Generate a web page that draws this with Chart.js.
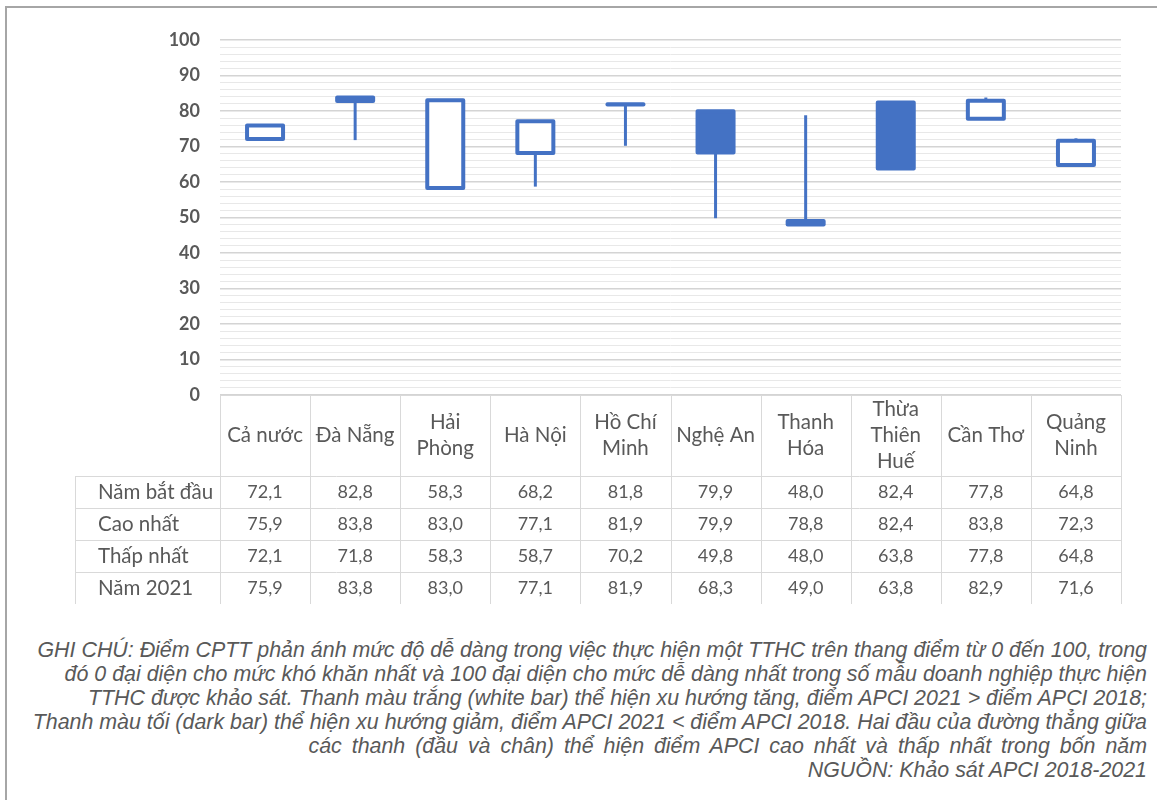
<!DOCTYPE html>
<html lang="vi">
<head>
    <meta charset="UTF-8">
    <title>APCI candlestick</title>
    <style>
        body { margin: 0; background: #fff; }
        #wrap { position: relative; width: 1157px; height: 800px; overflow: hidden; }
        #frame { position: absolute; left: 5px; top: 6px; right: -5px; bottom: -5px;
                 border-left: 2px solid #a6a6a6; border-top: 2px solid #a6a6a6; }
        #chart { position: absolute; left: 0; top: 0; }
        #note { position: absolute; right: 10px; top: 638px; width: 1150px; text-align: right;
                font: italic 21.4px "Liberation Sans", Arial, sans-serif; line-height: 24px; color: #595959;
                white-space: nowrap; }
        #note .wide { word-spacing: 4px; }
    </style>
</head>
<body>
<div id="wrap">
    <div id="frame"></div>
    <canvas id="chart" width="1157" height="620"></canvas>
    <div id="note">
        GHI CHÚ: Điểm CPTT phản ánh mức độ dễ dàng trong việc thực hiện một TTHC trên thang điểm từ 0 đến 100, trong<br>
        đó 0 đại diện cho mức khó khăn nhất và 100 đại diện cho mức dễ dàng nhất trong số mẫu doanh nghiệp thực hiện<br>
        TTHC được khảo sát. Thanh màu trắng (white bar) thể hiện xu hướng tăng, điểm APCI 2021 &gt; điểm APCI 2018;<br>
        Thanh màu tối (dark bar) thể hiện xu hướng giảm, điểm APCI 2021 &lt; điểm APCI 2018. Hai đầu của đường thẳng giữa<br>
        <span class="wide">các thanh (đầu và chân) thể hiện điểm APCI cao nhất và thấp nhất trong bốn năm</span><br>
        NGUỒN: Khảo sát APCI 2018-2021
    </div>
</div>
<script src="https://cdn.jsdelivr.net/npm/chart.js@4.4.0/dist/chart.umd.min.js"></script>
<script>
    const categories = ['Cả nước', 'Đà Nẵng', ['Hải', 'Phòng'], 'Hà Nội', ['Hồ Chí', 'Minh'],
        'Nghệ An', ['Thanh', 'Hóa'], ['Thừa', 'Thiên', 'Huế'], 'Cần Thơ', ['Quảng', 'Ninh']]
    const startVals = [72.1, 82.8, 58.3, 68.2, 81.8, 79.9, 48.0, 82.4, 77.8, 64.8]
    const highVals = [75.9, 83.8, 83.0, 77.1, 81.9, 79.9, 78.8, 82.4, 83.8, 72.3]
    const lowVals = [72.1, 71.8, 58.3, 58.7, 70.2, 49.8, 48.0, 63.8, 77.8, 64.8]
    const endVals = [75.9, 83.8, 83.0, 77.1, 81.9, 68.3, 49.0, 63.8, 82.9, 71.6]
    const rowLabels = ['Năm bắt đầu', 'Cao nhất', 'Thấp nhất', 'Năm 2021']
    const rowValues = [startVals, highVals, lowVals, endVals]

    const blue = '#4472C4'
    const textColor = '#595959'
    const lineColor = '#d9d9d9'

    // box outline drawn centered on the bar edges, like Excel strokes
    const boxStroke = {
        id: 'boxStroke',
        afterDatasetsDraw(chart) {
            const ctx = chart.ctx
            const meta = chart.getDatasetMeta(0)
            ctx.save()
            ctx.strokeStyle = blue
            ctx.lineWidth = 4
            ctx.lineJoin = 'round'
            meta.data.forEach(bar => {
                const { x, y, base, width } = bar.getProps(['x', 'y', 'base', 'width'])
                const top = Math.min(y, base)
                const h = Math.abs(base - y)
                ctx.strokeRect(x - width / 2, top, width, h)
            })
            ctx.restore()
        }
    }

    const dataTable = {
        id: 'dataTable',
        afterDraw(chart) {
            const ctx = chart.ctx
            const area = chart.chartArea
            const x = chart.scales.x
            const n = categories.length
            const colW = (area.right - area.left) / n
            const headTop = area.bottom
            const headBot = headTop + 81
            const rowH = 32
            const tableBot = headBot + rowH * rowValues.length
            const labelLeft = 75

            ctx.save()
            ctx.strokeStyle = lineColor
            ctx.lineWidth = 1
            ctx.beginPath()
            for (let i = 0; i <= n; i++) {
                const px = Math.round(area.left + i * colW) + 0.5
                ctx.moveTo(px, headTop)
                ctx.lineTo(px, tableBot)
            }
            ctx.moveTo(area.left, headTop + 0.5)
            ctx.lineTo(area.right, headTop + 0.5)
            for (let r = 0; r < rowValues.length; r++) {
                const py = Math.round(headBot + r * rowH) + 0.5
                ctx.moveTo(labelLeft, py)
                ctx.lineTo(area.right, py)
            }
            ctx.moveTo(labelLeft + 0.5, headBot)
            ctx.lineTo(labelLeft + 0.5, tableBot)
            ctx.stroke()

            ctx.fillStyle = textColor
            ctx.textBaseline = 'middle'
            ctx.textAlign = 'center'
            ctx.font = '20.5px Lato'
            categories.forEach((c, i) => {
                const lines = Array.isArray(c) ? c : [c]
                const cx = x.getPixelForValue(i)
                const cy = (headTop + headBot) / 2
                lines.forEach((t, k) => {
                    ctx.fillText(t, cx, cy + (k - (lines.length - 1) / 2) * 26)
                })
            })

            rowValues.forEach((vals, r) => {
                const cy = headBot + r * rowH + rowH / 2
                ctx.textAlign = 'left'
                ctx.font = '20.5px Lato'
                ctx.fillText(rowLabels[r], 98, cy)
                ctx.textAlign = 'center'
                ctx.font = '18px Lato'
                vals.forEach((v, i) => {
                    ctx.fillText(v.toFixed(1).replace('.', ','), x.getPixelForValue(i), cy)
                })
            })
            ctx.restore()
        }
    }

    const labels = categories.map(c => Array.isArray(c) ? c.join(' ') : c)

    new Chart(document.getElementById('chart'), {
        type: 'bar',
        data: {
            labels: labels,
            datasets: [
                {
                    label: 'Box',
                    data: startVals.map((v, i) => [v, endVals[i]]),
                    backgroundColor: startVals.map((v, i) => endVals[i] >= v ? '#ffffff' : blue),
                    borderWidth: 0,
                    inflateAmount: 0,
                    barThickness: 36,
                    grouped: false
                },
                {
                    label: 'Range',
                    data: lowVals.map((v, i) => [v, highVals[i]]),
                    backgroundColor: blue,
                    borderWidth: 0,
                    inflateAmount: 0,
                    barThickness: 3,
                    grouped: false
                }
            ]
        },
        options: {
            responsive: false,
            animation: false,
            layout: { padding: { left: 0, top: 40, right: 36, bottom: 225 } },
            plugins: { legend: { display: false }, tooltip: { enabled: false } },
            scales: {
                x: { display: false },
                y: {
                    min: 0,
                    max: 100,
                    afterFit: scale => { scale.width = 220 },
                    border: { display: false },
                    grid: {
                        drawTicks: false,
                        color: ctx => ctx.tick.value % 10 === 0 ? '#d4d4d4' : '#e8e8e8',
                        lineWidth: ctx => ctx.tick.value % 10 === 0 ? 1.5 : 1
                    },
                    ticks: {
                        stepSize: 2,
                        autoSkip: false,
                        padding: 20,
                        color: textColor,
                        font: { family: 'Lato', size: 18, weight: 'bold' },
                        callback: v => v % 10 === 0 ? v : ''
                    }
                }
            }
        },
        plugins: [boxStroke, dataTable]
    })
</script>
</body>
</html>
